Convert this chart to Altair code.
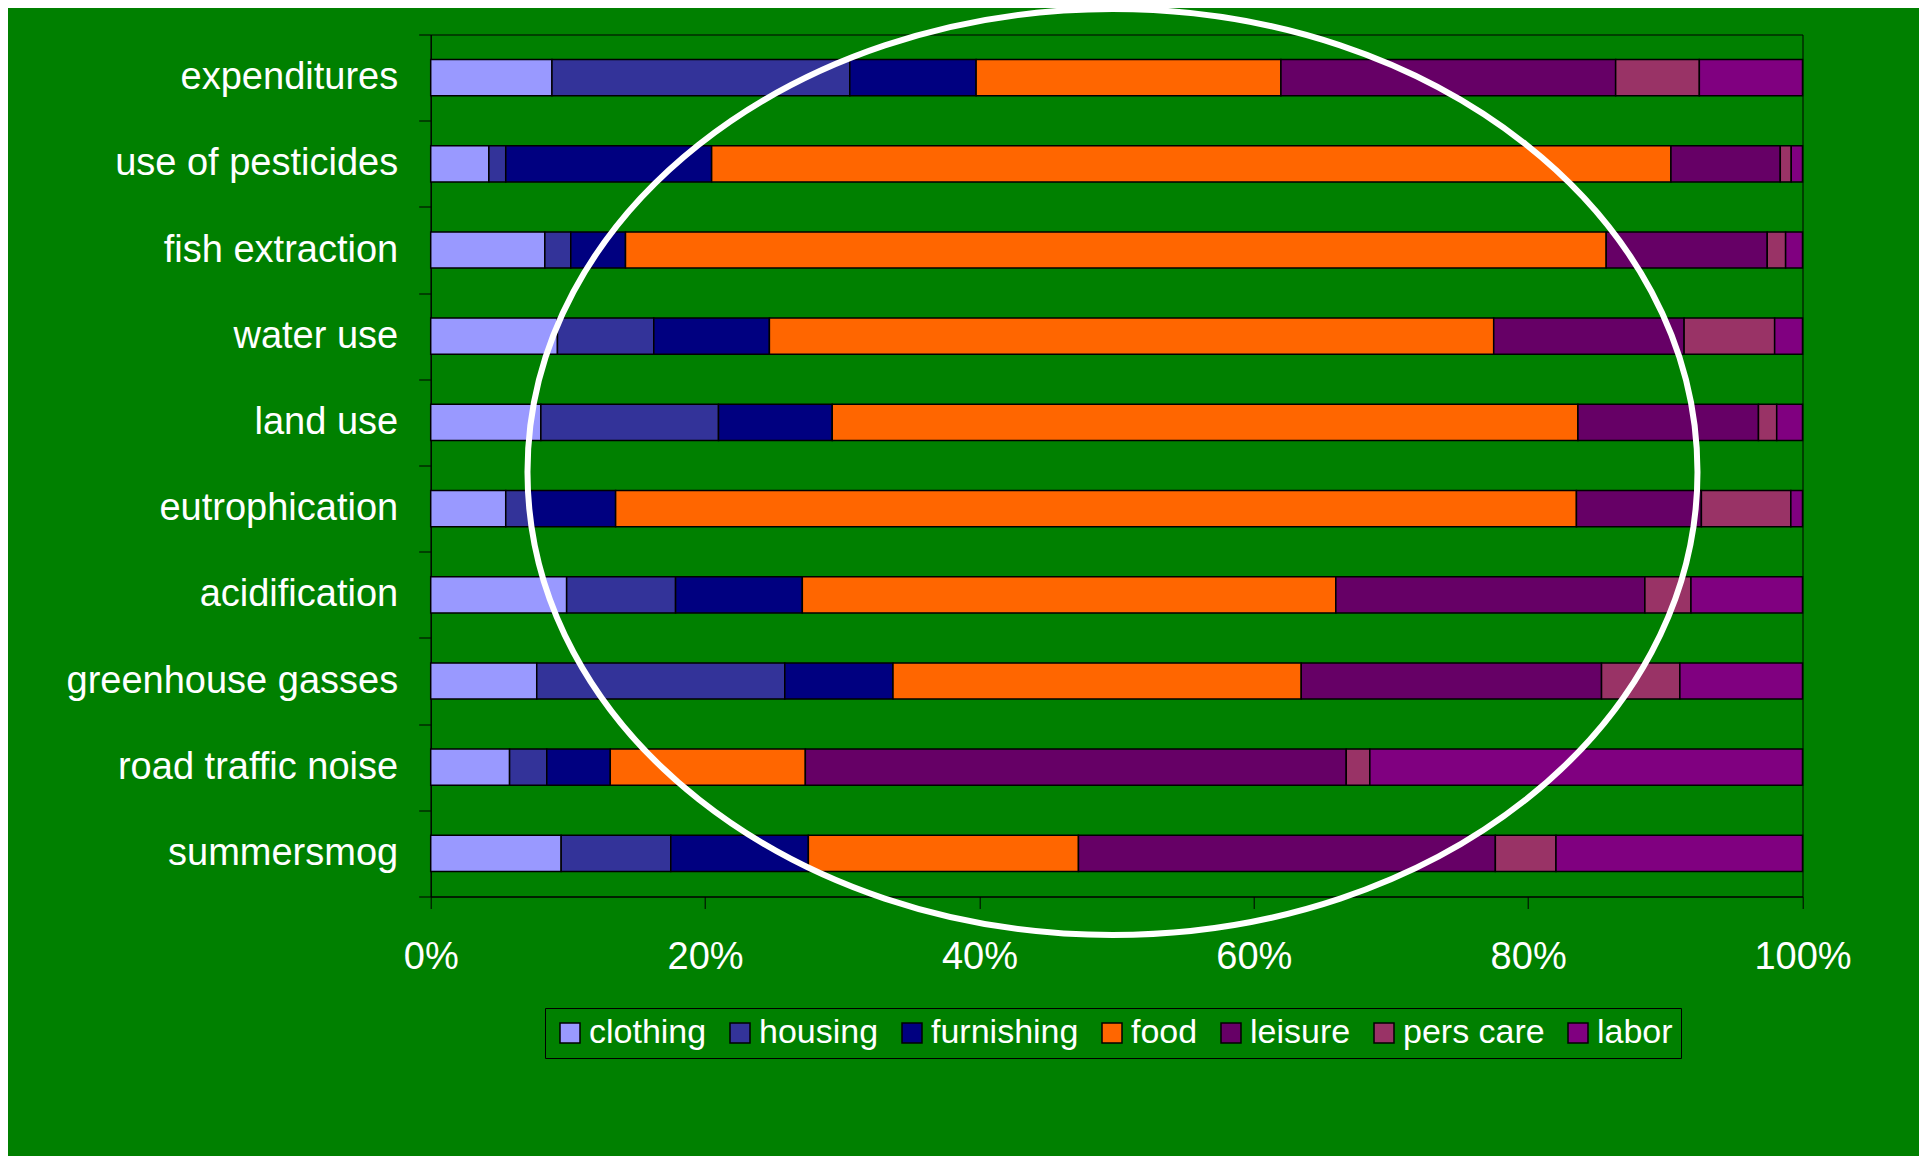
import altair as alt
import pandas as pd

categories = ["expenditures", "use of pesticides", "fish extraction", "water use",
              "land use", "eutrophication", "acidification", "greenhouse gasses",
              "road traffic noise", "summersmog"]
groups = ["clothing", "housing", "furnishing", "food", "leisure", "pers care", "labor"]
colors = ["#9999FF", "#333399", "#000080", "#FF6600", "#660066", "#993366", "#800080"]

clothing   = [8.84, 4.24, 8.32, 9.24, 8.03, 5.47, 9.91, 7.73, 5.75, 9.51]
housing    = [21.71, 1.23, 1.89, 7.02, 12.95, 1.77, 7.94, 18.08, 2.71, 7.99]
furnishing = [9.21, 15.01, 3.99, 8.43, 8.29, 6.24, 9.24, 7.89, 4.63, 10.03]
food       = [22.22, 69.93, 71.49, 52.80, 54.36, 70.04, 38.89, 29.76, 14.22, 19.69]
leisure    = [24.40, 7.97, 11.74, 13.88, 13.16, 9.11, 22.53, 21.89, 39.43, 30.39]
pers_care  = [6.10, 0.80, 1.34, 6.60, 1.33, 6.52, 3.36, 5.71, 1.72, 4.42]
labor      = [7.52, 0.82, 1.23, 2.03, 1.88, 0.85, 8.13, 8.94, 31.54, 17.97]

x_ticks = [0, 0.2, 0.4, 0.6, 0.8, 1.0]
ellipse_center = [0.497]

series = [clothing, housing, furnishing, food, leisure, pers_care, labor]
rows = []
for i, cat in enumerate(categories):
    for j, (g, vals) in enumerate(zip(groups, series)):
        rows.append({"category": cat, "group": g, "order": j, "value": vals[i]})
df = pd.DataFrame(rows)

W, H = 1371.8, 862
FONT = "Liberation Sans"

bars = alt.Chart(df).mark_bar(stroke="black", strokeWidth=1.5, height={"band": 0.42}).encode(
    x=alt.X("value:Q", stack="normalize",
            scale=alt.Scale(domain=[0, 1], nice=False),
            axis=alt.Axis(values=x_ticks, format=".0%", title=None, grid=False,
                          tickSize=12, labelPadding=30, labelFlush=False)),
    y=alt.Y("category:N", sort=categories,
            scale=alt.Scale(paddingInner=0, paddingOuter=0),
            axis=alt.Axis(title=None, tickBand="extent", tickSize=12, labelPadding=21,
                          labelLimit=600)),
    color=alt.Color("group:N", scale=alt.Scale(domain=groups, range=colors),
                    legend=alt.Legend(title=None, orient="none", direction="horizontal",
                                      legendX=114.3, legendY=973.5)),
    order=alt.Order("order:Q"),
)

ellipse_path = "M -1 0 A 1 0.7915 0 1 1 1 0 A 1 0.7915 0 1 1 -1 0 Z"
ell = alt.Chart(pd.DataFrame({"cx": ellipse_center})).mark_point(
    shape=ellipse_path, size=1368900, filled=False, stroke="white",
    strokeWidth=6, opacity=1
).encode(
    x=alt.X("cx:Q"),
    y=alt.value(437.5),
)

chart = alt.layer(bars, ell).properties(
    width=W, height=H,
    autosize="none",
    padding={"left": 422.7, "top": 26.5, "right": 116, "bottom": 259},
    background="#008000",
).configure_view(
    stroke="black", strokeWidth=1
).configure_axis(
    labelFont=FONT, labelFontSize=38, labelColor="white",
    domainColor="black", domainWidth=1, tickColor="black", tickWidth=1,
).configure_legend(
    labelFont=FONT, labelFontSize=34, labelColor="white",
    symbolType="square", symbolSize=400, symbolStrokeColor="black",
    symbolStrokeWidth=1.5, symbolOpacity=1,
    strokeColor="black", padding=8, labelOffset=2, columnPadding=16,
    labelLimit=400,
)

chart.save("out.html", embed_options={"renderer": "svg", "actions": False})
